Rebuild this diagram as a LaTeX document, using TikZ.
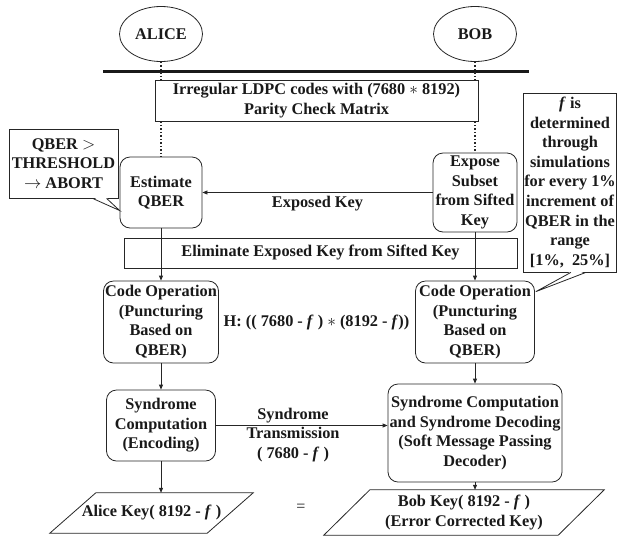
\documentclass[tikz,border=0pt]{standalone}
\usepackage{fontspec}
\setmainfont{Liberation Serif}
\usetikzlibrary{arrows.meta,shapes.geometric,calc}

\begin{document}
\begin{tikzpicture}[x=1pt,y=-1pt,
  font=\fontsize{16.3}{19.6}\selectfont\bfseries,
  every node/.style={align=center, inner sep=1pt, text=black!90},
  line/.style={draw=black!85, line width=0.8pt},
  rbox/.style={line, rounded corners=10pt},
  sqbox/.style={line, fill=white},
  agent/.style={line, ellipse, minimum width=83pt, minimum height=55pt},
  arr/.style={line, -{Triangle[length=5pt,width=4pt]}},
  dots/.style={draw=black!85, line width=1.5pt, dotted},
]
  \useasboundingbox (0,0) rectangle (617,539);

  % Parties and the public channel
  \node[agent] (alice) at (161,34) {ALICE};
  \node[agent] (bob) at (475,34) {BOB};
  \coordinate (barL) at (103,71);
  \coordinate (barR) at (529,71);
  \draw[line width=3pt, black!90] (barL) -- (barR);

  \node[sqbox, minimum width=323pt, minimum height=41pt] (ldpc) at (316.5,100.5)
    {Irregular LDPC codes with (7680 $*$ 8192)\\Parity Check Matrix};

  % Parameter estimation
  \node[rbox, minimum width=82pt, minimum height=71pt] (est) at (161,192.5) {Estimate\\QBER};
  \node[rbox, minimum width=84pt, minimum height=79pt] (expose) at (475,192.5) {Expose\\Subset\\from Sifted\\Key};
  \node[sqbox, minimum width=393pt, minimum height=30pt] (elim) at (320.5,253) {Eliminate Exposed Key from Sifted Key};

  % Callouts
  \node[sqbox, minimum width=109pt, minimum height=69pt] (qcall) at (63.5,163.5)
    {QBER $>$\\THRESHOLD\\$\rightarrow$ ABORT};
  \fill[white] ($(qcall.south west)+(84.5,-1.2)$) -- ($(est.west)+(0,18)$) -- ($(qcall.south west)+(97.5,-1.2)$) -- cycle;
  \draw[line] ($(qcall.south west)+(84,0)$) -- ($(est.west)+(0,18)$) -- ($(qcall.south west)+(98,0)$);

  \node[sqbox, minimum width=92pt, minimum height=179pt] (fcall) at (570,182.5)
    {\textit{f} is\\determined\\through\\simulations\\for every 1\%\\increment of\\QBER in the\\range\\{[}1\%,~~25\%{]}};

  % Code operation
  \node[rbox, minimum width=115pt, minimum height=82pt] (codeL) at (161,322) {Code Operation\\(Puncturing\\Based on\\QBER)};
  \node[rbox, minimum width=119pt, minimum height=82pt] (codeR) at (475,322) {Code Operation\\(Puncturing\\Based on\\QBER)};
  \node (hlab) at (316.5,322) {H: (( 7680 - \textit{f} ) $*$ (8192 - \textit{f}))};

  \fill[white] ($(fcall.south west)+(48.5,-1.2)$) -- ($(codeR.north east)+(1,11)$) -- ($(fcall.south west)+(62.5,-1.2)$) -- cycle;
  \draw[line] ($(fcall.south west)+(48,0)$) -- ($(codeR.north east)+(1,11)$) -- ($(fcall.south west)+(63,0)$);

  % Syndrome coding
  \node[rbox, minimum width=109pt, minimum height=71pt] (synL) at (161,425.5) {Syndrome\\Computation\\(Encoding)};
  \node[rbox, minimum width=174pt, minimum height=98pt] (synR) at (475,433)
    {Syndrome Computation\\and Syndrome Decoding\\(Soft Message Passing\\Decoder)};
  \node (stlab) at (293,435) {Syndrome\\Transmission\\( 7680 - \textit{f} )};

  % Final keys (parallelograms)
  \node[minimum width=203pt, minimum height=40pt] (aliceKey) at (151.5,513) {Alice Key( 8192 - \textit{f} )};
  \draw[line] (aliceKey.south west) -- ($(aliceKey.north west)+(46,0)$) -- (aliceKey.north east)
    -- ($(aliceKey.south east)-(46,0)$) -- cycle;
  \node[minimum width=280pt, minimum height=45pt] (bobKey) at (464,512.5)
    {Bob Key( 8192 - \textit{f} )\\(Error Corrected Key)};
  \draw[line] (bobKey.south west) -- ($(bobKey.north west)+(46,0)$) -- (bobKey.north east)
    -- ($(bobKey.south east)-(46,0)$) -- cycle;
  \node[font=\fontsize{16}{19.5}\selectfont] (eq) at (301,508) {=};

  % Dotted links
  \draw[dots] (alice.south) -- (alice.south |- ldpc.north);
  \draw[dots] (est.north |- ldpc.south) -- (est.north);
  \draw[dots] (bob.south) -- (bob.south |- ldpc.north);
  \draw[dots] (expose.north |- ldpc.south) -- (expose.north);

  % Arrows
  \draw[arr] (expose.west) -- (est.east) node[midway, below=2pt] {Exposed Key};
  \draw[arr] (est) -- (codeL);
  \draw[arr] (expose) -- (codeR);
  \draw[arr] (codeL) -- (synL);
  \draw[arr] (codeR) -- (synR);
  \draw[arr] (synL.east) -- (synL.east -| synR.west);
  \draw[arr] (synL.south) -- (synL.south |- aliceKey.north);
  \draw[arr] (synR.south) -- (synR.south |- bobKey.north);
\end{tikzpicture}
\end{document}
